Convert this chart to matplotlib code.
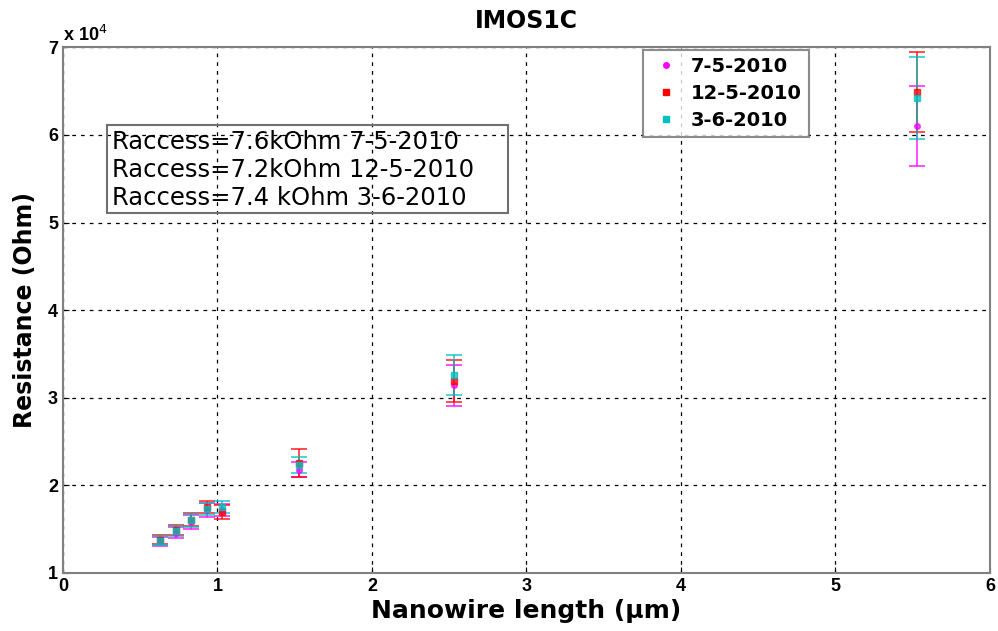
import matplotlib
matplotlib.use("Agg")
import matplotlib.pyplot as plt
from matplotlib.lines import Line2D
from matplotlib.patches import Rectangle
import numpy as np

plt.rcParams['font.family'] = ['Liberation Sans', 'DejaVu Sans']

length_um = [0.63, 0.73, 0.83, 0.93, 1.03, 1.53, 2.53, 5.53]

labels = ["7-5-2010", "12-5-2010", "3-6-2010"]
res_0705 = [13600, 14600, 15800, 17200, 17200, 21800, 31400, 61000]
err_0705 = [500, 600, 800, 800, 700, 900, 2300, 4600]
res_1205 = [13800, 14900, 16100, 17500, 17000, 22500, 31900, 64900]
err_1205 = [500, 600, 700, 700, 800, 1600, 2400, 4600]
res_0306 = [13700, 14800, 16000, 17300, 17500, 22300, 32600, 64200]
err_0306 = [500, 600, 700, 700, 700, 900, 2300, 4700]

colors = ["#ff00ff", "#ff0000", "#00c0c0"]
markers = ["o", "s", "s"]

annot = ["Raccess=7.6kOhm 7-5-2010",
         "Raccess=7.2kOhm 12-5-2010",
         "Raccess=7.4 kOhm 3-6-2010"]

fig = plt.figure(figsize=(9.98, 6.31), dpi=100)
ax = fig.add_axes([0.063, 0.092, 0.929, 0.833])

series = [(res_0705, err_0705), (res_1205, err_1205), (res_0306, err_0306)]
for (vals, errs), c, m, lab in zip(series, colors, markers, labels):
    ax.errorbar(length_um, vals, yerr=errs, fmt=m, color=c, ecolor=c,
                markersize=4, capsize=6, elinewidth=1.3, capthick=1.3,
                alpha=0.75)

ax.set_xlim(0, 6)
ax.set_ylim(10000, 70000)
ax.set_xticks(np.arange(0, 7, 1))
ax.set_yticks(np.arange(10000, 80000, 10000))
ax.set_yticklabels([str(v) for v in range(1, 8)])
ax.grid(True, linestyle=(0, (3, 4)), color='black', linewidth=0.9)
ax.tick_params(direction='in', labelsize=13, length=4)
for lbl in ax.get_xticklabels() + ax.get_yticklabels():
    lbl.set_fontweight('bold')
for s in ax.spines.values():
    s.set_color('#808080')
    s.set_linewidth(1.5)

ax.text(0.0, 1.005, r"x 10$^4$", transform=ax.transAxes, fontsize=13,
        fontweight='bold', ha='left', va='bottom')

ax.set_title("IMOS1C", fontsize=17, fontweight='bold', pad=14,
             family=['DejaVu Sans'])
ax.set_xlabel("Nanowire length (\u00b5m)", fontsize=18, fontweight='bold', labelpad=3,
              family=['DejaVu Sans'])
ax.set_ylabel("Resistance (Ohm)", fontsize=17, fontweight='bold', labelpad=8,
              family=['DejaVu Sans'])

# annotation box
box = Rectangle((0.285, 51100), 2.595, 10000, facecolor='none',
                edgecolor='#707070', linewidth=1.5, zorder=5)
ax.add_patch(box)
ax.text(0.315, 60550, "\n".join(annot), fontsize=17.5, va='top', ha='left',
        linespacing=1.2, family=['DejaVu Sans'], zorder=6)

handles = [Line2D([], [], linestyle='none', marker=m, color=c, markersize=4)
           for c, m in zip(colors, markers)]
leg = ax.legend(handles, labels, loc='upper right', bbox_to_anchor=(0.8045, 0.994),
                frameon=True, fancybox=False, edgecolor='#707070',
                handletextpad=0.5, handlelength=1.6, borderpad=0.35, labelspacing=0.4,
                borderaxespad=0, prop=dict(family='DejaVu Sans', weight='bold', size=14))
leg.get_frame().set_linewidth(1.5)

fig.savefig("out.png", dpi=100)
